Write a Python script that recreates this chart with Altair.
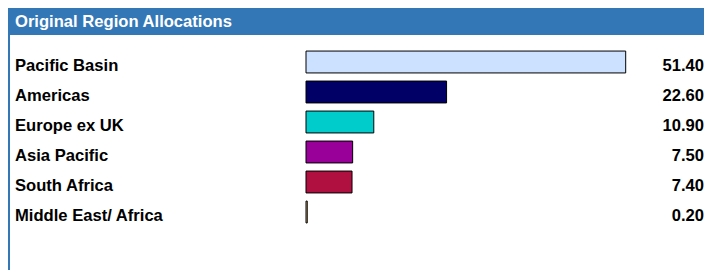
import altair as alt
import pandas as pd

categories = ["Pacific Basin", "Americas", "Europe ex UK", "Asia Pacific", "South Africa", "Middle East/ Africa"]
values = [51.40, 22.60, 10.90, 7.50, 7.40, 0.20]
colors = ["#CCE0FF", "#000066", "#00CCCC", "#990099", "#B0103F", "#FFCC80"]
title_text = "Original Region Allocations"

df = pd.DataFrame({"region": categories, "value": values})

FONT = "Liberation Sans"
FS = 16.6
W, H = 696, 262

y_enc = alt.Y("region:N", sort=categories, axis=None,
              scale=alt.Scale(domain=categories, range=[39, 219], paddingInner=0.27, paddingOuter=0.135))

header = alt.Chart(pd.DataFrame({"t": [title_text]})).mark_rect(color="#3377B6").encode(
    x=alt.value(0), x2=alt.value(W), y=alt.value(0), y2=alt.value(27))
border = alt.Chart(pd.DataFrame({"t": [0]})).mark_rect(color="#3377B6").encode(
    x=alt.value(0), x2=alt.value(2), y=alt.value(0), y2=alt.value(H))
title = alt.Chart(pd.DataFrame({"t": [title_text]})).mark_text(
    align="left", baseline="middle", font=FONT, fontSize=FS, fontWeight="bold", color="white"
).encode(x=alt.value(7), y=alt.value(13.5), text="t:N")

bars = alt.Chart(df).mark_bar(stroke="black", strokeWidth=1, orient="horizontal").encode(
    x=alt.X("value:Q", axis=None, scale=alt.Scale(domain=[0, 51.4], range=[298, 617.7], nice=False, zero=True)),
    y=y_enc,
    color=alt.Color("region:N", scale=alt.Scale(domain=categories, range=colors), legend=None),
)

labels = alt.Chart(df).mark_text(
    align="left", baseline="middle", dy=3.5, font=FONT, fontSize=FS, fontWeight="bold", color="black"
).encode(x=alt.value(7), y=y_enc, text="region:N")

vals = alt.Chart(df).mark_text(
    align="right", baseline="middle", dy=3.5, font=FONT, fontSize=FS, fontWeight="bold", color="black"
).encode(x=alt.value(696), y=y_enc, text=alt.Text("value:Q", format=".2f"))

chart = alt.layer(header, border, title, bars, labels, vals).properties(
    width=W, height=H, padding=0, autosize=alt.AutoSizeParams(type="none")
).configure_view(stroke=None).configure(background="white")

chart.save("out.html", embed_options={"renderer": "svg", "actions": False})
